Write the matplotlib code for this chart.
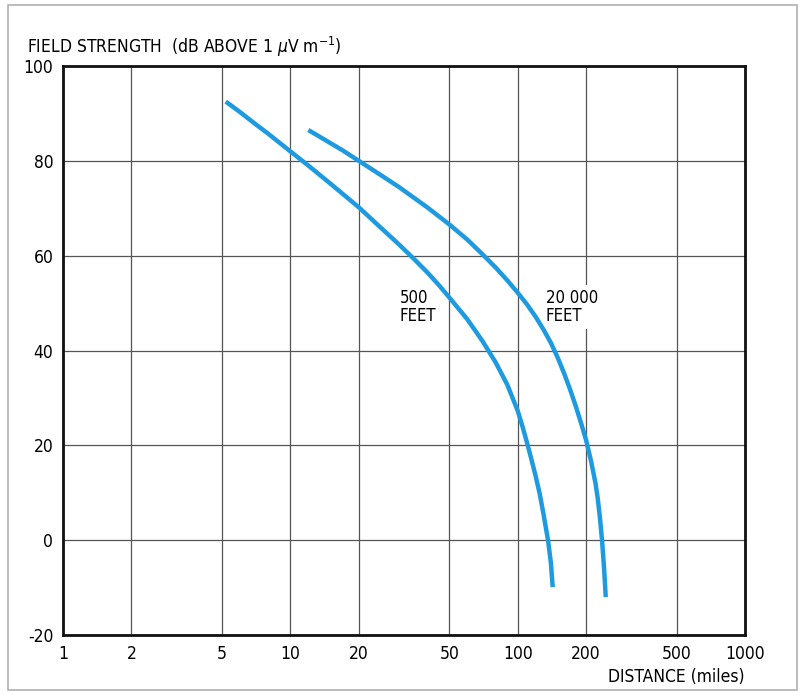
import matplotlib
matplotlib.use("Agg")
import matplotlib.pyplot as plt
from matplotlib.patches import Rectangle

plt.rcParams['font.family'] = ['DejaVu Sans']
plt.rcParams['font.stretch'] = 'condensed'
plt.rcParams['axes.unicode_minus'] = False
plt.rcParams['mathtext.fontset'] = 'dejavusans'

# Data
dist_500 = [5.2, 6, 7, 8, 10, 12, 15, 20, 25, 30, 35, 40, 45, 50, 60, 70, 80, 90, 100,
            105, 110, 115, 120, 125, 130, 136, 140, 142.6]
fs_500 = [92.5, 90.3, 87.8, 85.7, 82, 79, 75.2, 70.2, 65.9, 62.4, 59.3, 56.5, 53.8, 51.2,
          46.6, 42, 37.5, 32.8, 27.3, 24, 20.5, 17, 13.5, 9.8, 5.4, 0, -4.8, -9.9]
dist_20000 = [12, 14, 17, 20, 25, 30, 40, 50, 60, 70, 80, 90, 100, 110, 120, 130, 140, 150,
              160, 170, 180, 190, 200, 210, 220, 225, 230, 235, 240, 244]
fs_20000 = [86.5, 84.6, 82.2, 80, 77, 74.5, 70.2, 66.6, 63.4, 60.3, 57.5, 54.8, 52.2, 49.7,
            47.1, 44.4, 41.6, 38.5, 35.2, 31.8, 28.3, 24.7, 21.1, 16.8, 12.0, 8.8, 4.8, 0, -6, -12]
xticks = [1, 2, 5, 10, 20, 50, 100, 200, 500, 1000]
xticklabels = ['1', '2', '5', '10', '20', '50', '100', '200', '500', '1000']
yticks = [-20, 0, 20, 40, 60, 80, 100]

fig = plt.figure(figsize=(8.04, 6.95), dpi=100)
fig.patches.append(Rectangle((8/804, 5/695), 789/804, 685/695, transform=fig.transFigure,
                             fill=False, edgecolor='#b0b0b0', linewidth=1.2))
ax = fig.add_axes([63/804, 1-635/695, 682/804, 569/695])
ax.set_xscale('log')
ax.set_xlim(1, 1000)
ax.set_ylim(-20, 100)
ax.set_xticks(xticks)
ax.set_xticklabels(xticklabels)
ax.xaxis.set_minor_locator(matplotlib.ticker.NullLocator())
ax.set_yticks(yticks)
ax.tick_params(length=0, labelsize=12.5, pad=7)
ax.grid(True, color='#555555', linewidth=0.9)
for s in ax.spines.values():
    s.set_linewidth(2.0)
    s.set_color('#111111')

line_color = '#1e9ae0'
ax.plot(dist_500, fs_500, color=line_color, linewidth=3.2, solid_capstyle='butt', zorder=3)
ax.plot(dist_20000, fs_20000, color=line_color, linewidth=3.2, solid_capstyle='butt', zorder=3)

ax.text(400/804, 1-307/695, '500\nFEET', transform=fig.transFigure, fontsize=12,
        ha='left', va='center', linespacing=1.0, zorder=2.5)
ax.text(546/804, 1-307/695, '20 000\nFEET', transform=fig.transFigure, fontsize=12,
        ha='left', va='center', linespacing=1.0,
        bbox=dict(facecolor='white', edgecolor='none', pad=3), zorder=2.5)

fig.text(27/804, 1-47/695, r'FIELD STRENGTH  (dB ABOVE 1 $\mu$V m$^{-1}$)', fontsize=12.5,
         ha='left', va='center')
fig.text(745/804, 1-677/695, 'DISTANCE (miles)', fontsize=12.5, ha='right', va='center')

fig.savefig('out.png', dpi=100)
